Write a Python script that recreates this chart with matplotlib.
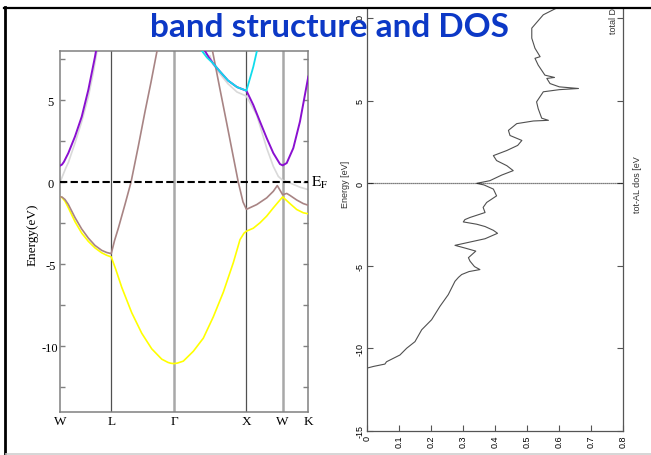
import matplotlib
matplotlib.use('Agg')
import matplotlib.pyplot as plt
from matplotlib.patches import Rectangle
from matplotlib.lines import Line2D
from matplotlib.ticker import MultipleLocator
import numpy as np

nan = np.nan

# ---------------- band structure data (k in 2pi/a path length, E in eV) ----------------
kpt_labels = ['W', 'L', 'Γ', 'X', 'W', 'K']
kpt_pos = [0.0, 0.707, 1.573, 2.573, 3.073, 3.427]

yellow_k = [0.0, 0.028, 0.069, 0.115, 0.207, 0.300, 0.391, 0.483, 0.576, 0.645, 0.707,
            0.773, 0.852, 0.990, 1.128, 1.266, 1.404, 1.491, 1.530, 1.573, 1.620,
            1.702, 1.840, 1.978, 2.116, 2.254, 2.392, 2.484, 2.540, 2.573,
            2.668, 2.760, 2.853, 2.944, 3.036, 3.073,
            3.174, 3.267, 3.358, 3.427]
yellow_E = [-0.89, -0.93, -1.15, -1.55, -2.40, -3.10, -3.60, -4.00, -4.30, -4.45, -4.55,
            -5.35, -6.40, -7.95, -9.20, -10.15, -10.78, -10.98, -11.03, -11.05, -11.02,
            -10.90, -10.30, -9.50, -8.20, -6.70, -4.90, -3.50, -3.10, -2.98,
            -2.80, -2.47, -2.06, -1.56, -1.08, -0.89,
            -1.30, -1.66, -1.86, -1.92]

brown_k = [0.0, 0.028, 0.069, 0.115, 0.207, 0.300, 0.391, 0.483, 0.576, 0.645, 0.707,
           0.753, 0.805, 0.897, 0.980, 1.081, 1.173, 1.256, 1.339, nan,
           2.105, 2.208, 2.301, 2.392, 2.461, 2.526, 2.573,
           2.715, 2.853, 2.944, 2.999, 3.036, 3.073,
           3.129, 3.174, 3.267, 3.358, 3.427]
brown_E = [-0.89, -0.90, -1.05, -1.35, -2.15, -2.85, -3.40, -3.85, -4.15, -4.28, -4.35,
           -3.55, -2.80, -1.35, 0.00, 2.20, 4.30, 6.10, 8.00, nan,
           8.00, 5.67, 3.60, 1.55, 0.00, -1.20, -1.65,
           -1.36, -0.95, -0.55, -0.20, -0.48, -0.76,
           -0.68, -0.80, -1.08, -1.30, -1.40]

gray_k = [0.0, 0.028, 0.055, 0.083, 0.115, 0.207, 0.300, 0.391, 0.460, 0.511, nan,
          2.070, 2.112, 2.208, 2.319, 2.443, 2.573,
          2.715, 2.853, 2.944, 3.013, 3.073, 3.174, 3.312, 3.427]
gray_E = [0.00, 0.30, 0.60, 0.90, 1.20, 2.39, 3.70, 5.20, 6.70, 8.00, nan,
          7.70, 7.20, 6.60, 6.00, 5.50, 5.25,
          4.10, 2.08, 0.97, 0.36, 0.12, -0.04, -0.30, -0.45]

purple_k = [0.0, 0.028, 0.055, 0.083, 0.115, 0.207, 0.300, 0.391, 0.483, 0.497, nan,
            2.001, 2.056, 2.112, 2.208, 2.319, 2.443, 2.573,
            2.668, 2.760, 2.853, 2.944, 3.036, 3.073, 3.129, 3.220, 3.312, 3.427]
purple_E = [1.01, 1.08, 1.25, 1.50, 1.78, 2.79, 4.00, 5.63, 7.65, 8.00, nan,
            8.00, 7.60, 7.25, 6.75, 6.20, 5.80, 5.58,
            4.71, 3.70, 2.69, 1.78, 1.11, 1.03, 1.17, 2.08, 3.70, 6.44]

cyan_k = [1.960, 2.029, 2.112, 2.208, 2.319, 2.443, 2.573, 2.622, 2.668, 2.715, 2.719]
cyan_E = [8.00, 7.60, 7.25, 6.75, 6.20, 5.80, 5.58, 6.33, 7.04, 7.95, 8.05]

# ---------------- DOS data ----------------
dos_E = [-15.0, -11.2, -11.1, -10.96, -10.82, -10.41, -10.0, -9.6, -8.88, -8.27, -7.46,
         -6.75, -5.94, -5.70, -5.53, -5.35, -5.23, -5.05, -4.72, -4.51, -4.11, -3.95,
         -3.76, -3.56, -3.36, -3.03, -2.85, -2.62, -2.48, -2.34, -2.20, -2.07, -1.77,
         -1.46, -1.16, -0.76, -0.35, -0.10, 0.0, 0.16, 0.50, 0.77, 1.07, 1.38, 1.68,
         1.99, 2.30, 2.60, 2.90, 3.21, 3.62, 3.78, 3.82, 3.95, 4.53, 4.94, 5.55, 5.68,
         5.75, 5.85, 6.05, 6.36, 6.42, 6.56, 7.17, 7.58, 7.68, 8.19, 8.80, 9.41,
         10.22, 10.73, 11.2]
dos_val = [0.0, 0.0, 0.02, 0.055, 0.060, 0.102, 0.123, 0.149, 0.170, 0.201, 0.227,
           0.253, 0.274, 0.285, 0.295, 0.318, 0.352, 0.335, 0.321, 0.316, 0.339, 0.310,
           0.274, 0.321, 0.368, 0.407, 0.394, 0.368, 0.342, 0.300, 0.305, 0.321, 0.368,
           0.362, 0.373, 0.404, 0.394, 0.365, 0.342, 0.383, 0.420, 0.456, 0.436, 0.404, 0.394,
           0.436, 0.470, 0.483, 0.446, 0.441, 0.467, 0.519, 0.566, 0.545, 0.534, 0.529, 0.550, 0.600,
           0.660, 0.600, 0.571, 0.561, 0.585, 0.555, 0.534, 0.524, 0.540, 0.524, 0.514,
           0.514, 0.550, 0.602, 0.660]
dos_xticks = [0, 0.1, 0.2, 0.3, 0.4, 0.5, 0.6, 0.7, 0.8]
dos_xticklabels = ['0', '0.1', '0.2', '0.3', '0.4', '0.5', '0.6', '0.7', '0.8']
dos_yticks = [-15, -10, -5, 0, 5, 10, 15]

# ---------------- figure ----------------
W, H = 651, 456
fig = plt.figure(figsize=(W / 100, H / 100), dpi=100)
plt.rcParams['mathtext.fontset'] = 'stix'


def fx(px):
    return px / W


def fy(py):
    return 1 - py / H


serif = 'Liberation Serif'
sans = 'Liberation Sans'

# ---- band structure axes ----
ax1 = fig.add_axes([fx(60), fy(413), fx(308.3) - fx(60), fy(52) - fy(413)])
ax1.set_xlim(kpt_pos[0], kpt_pos[-1])
ax1.set_ylim(-14, 8)
for sp in ax1.spines.values():
    sp.set_color('#808080')
    sp.set_linewidth(1.1)

for i, kp in enumerate(kpt_pos[1:-1]):
    lab = kpt_labels[1:-1][i]
    if lab in ('L', 'X'):
        ax1.axvline(kp, color='#505050', lw=0.9, zorder=1)
    else:
        ax1.axvline(kp, color='#a8a8a8', lw=1.8, zorder=1)

ax1.plot(gray_k, gray_E, color='#d9d9d9', lw=1.2, zorder=2)
ax1.plot(yellow_k, yellow_E, color='#ffff00', lw=1.2, zorder=3)
ax1.plot(brown_k, brown_E, color='#a88484', lw=1.2, zorder=3)
ax1.plot(purple_k, purple_E, color='#8a10d0', lw=1.4, zorder=3)
ax1.plot(cyan_k, cyan_E, color='#10dcec', lw=1.3, zorder=4)

ax1.axhline(0, color='black', lw=1.5, ls=(0, (3.5, 1.6)), zorder=5)

ax1.yaxis.set_major_locator(MultipleLocator(5))
ax1.yaxis.set_minor_locator(MultipleLocator(2.5))
ax1.tick_params(axis='y', which='both', direction='in', left=True, right=True,
                length=3.5, width=1.0, color='#808080', labelsize=9, pad=7)
ax1.set_yticks([5, 0, -5, -10])
ax1.set_yticklabels(['5', '0', '-5', '-10'], family=serif)
for t in ax1.get_yticklabels():
    t.set_ha('center')
ax1.set_xticks(kpt_pos)
ax1.set_xticklabels(kpt_labels, family=serif, fontsize=9.5)
ax1.tick_params(axis='x', length=0, pad=2)

ax1.text(kpt_pos[-1] + 0.04, 0, r'$\mathrm{E_F}$', fontsize=11, va='center', ha='left',
         clip_on=False)
fig.text(fx(33), fy(235), 'Energy(eV)', rotation=90, ha='center', va='center',
         family=serif, fontsize=9.5)

# ---- DOS axes (rotated presentation, cropped at top) ----
top_px = 184.3 - 15 * 16.49
ax2 = fig.add_axes([fx(367.3), fy(431.7), fx(623.3) - fx(367.3), (431.7 - top_px) / H])
ax2.set_xlim(0, 0.8)
ax2.set_ylim(-15, 15)
for sp in ax2.spines.values():
    sp.set_color('#555555')
    sp.set_linewidth(0.9)
ax2.plot(dos_val, dos_E, color='#505050', lw=0.8)
ax2.axhline(0, color='black', lw=0.9, ls=(0, (0.7, 0.9)))
ax2.set_xticks(dos_xticks)
ax2.set_xticklabels(dos_xticklabels, rotation=90, family=sans, fontsize=6.5)
ax2.set_yticks(dos_yticks)
ax2.set_yticklabels([str(v) for v in dos_yticks], rotation=90, family=sans, fontsize=6.5,
                    va='center')
ax2.tick_params(axis='both', direction='in', length=4, width=0.8, color='#555555',
                left=True, right=True, bottom=True, top=False, pad=3)
ax2.tick_params(axis='y', pad=2)

fig.text(fx(345), fy(184), 'Energy [eV]', rotation=90, ha='center', va='center',
         family=sans, fontsize=6.5, color='#333333')
fig.text(fx(637), fy(185), 'tot-AL dos [eV', rotation=90, ha='center', va='center',
         family=sans, fontsize=6.5, color='#333333')
fig.text(fx(613), fy(34), 'total DOS', rotation=90, ha='center', va='bottom',
         family=sans, fontsize=6.5, color='#333333')

# ---- slide frame ----
fig.patches.append(Rectangle((0, fy(8.3)), 1, 1 - fy(8.3), transform=fig.transFigure,
                             facecolor='white', edgecolor='none', zorder=10))
fig.lines.append(Line2D([fx(4), 1], [fy(9.2), fy(9.2)], transform=fig.transFigure,
                        color='black', lw=1.6, zorder=11))
fig.lines.append(Line2D([fx(5), fx(5)], [fy(8.4), 0], transform=fig.transFigure,
                        color='black', lw=2.0, zorder=11))
fig.lines.append(Line2D([fx(6), 1], [fy(454.5), fy(454.5)], transform=fig.transFigure,
                        color='#d0d0d0', lw=1.2, zorder=11))

fig.text(fx(330), fy(37), 'band structure and DOS', ha='center', va='baseline',
         fontsize=24, weight='bold', color='#0c38c6', family='Lato', zorder=12)

fig.savefig('out.png', dpi=100)
